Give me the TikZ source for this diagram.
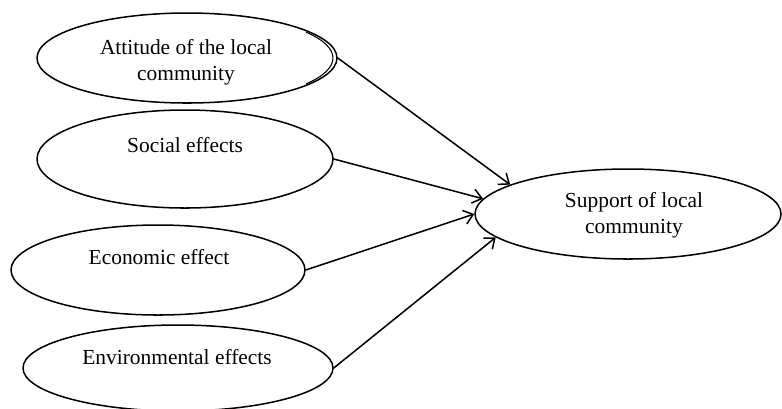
\documentclass[tikz,border=0pt]{standalone}
\usepackage{fontspec}
\setmainfont{Liberation Serif}
\usetikzlibrary{shapes.geometric,arrows.meta}
\begin{document}
\begin{tikzpicture}[x=0.56pt, y=-0.56pt, line join=round, line cap=round, >={Straight Barb[length=5pt,width=8pt]}, font=\fontsize{12}{14.5}\selectfont]
	\tikzset{blob/.style={draw, ellipse, line width=0.85pt, inner sep=0pt}, txt/.style={align=center, inner sep=0pt}}
	\def\u{0.56pt}
	\useasboundingbox (0,0) rectangle (782,408);
	% factors on the left
	\node[blob, minimum width=300*\u, minimum height=90*\u] (att) at (187,58) {};
	\draw[line width=0.6pt] (306.2,32.2) arc[start angle=-35, end angle=35, x radius=148, y radius=45];
	\node[blob, minimum width=296*\u, minimum height=98*\u] (soc) at (185,159) {};
	\node[blob, minimum width=294*\u, minimum height=90*\u] (eco) at (158,270) {};
	\node[blob, minimum width=310*\u, minimum height=86*\u] (env) at (178,368) {};
	\node[txt] (attT) at (186,62) {Attitude of the local\\community};
	\node[txt] (socT) at (185,145) {Social effects};
	\node[txt] (ecoT) at (159,257) {Economic effect};
	\node[txt] (envT) at (177,357) {Environmental effects};
	% outcome
	\node[blob, minimum width=306*\u, minimum height=90*\u] (sup) at (628,214) {};
	\node[txt] (supT) at (634,215) {Support of local\\community};
	\draw[->, line width=0.85pt] (att.east)--(sup.166);
	\draw[->, line width=0.85pt] (soc.east)--(sup.174.5);
	\draw[->, line width=0.85pt] (eco.east)--(sup.180);
	\draw[->, line width=0.85pt] (env.east)--(sup.190.6);
\end{tikzpicture}
\end{document}
